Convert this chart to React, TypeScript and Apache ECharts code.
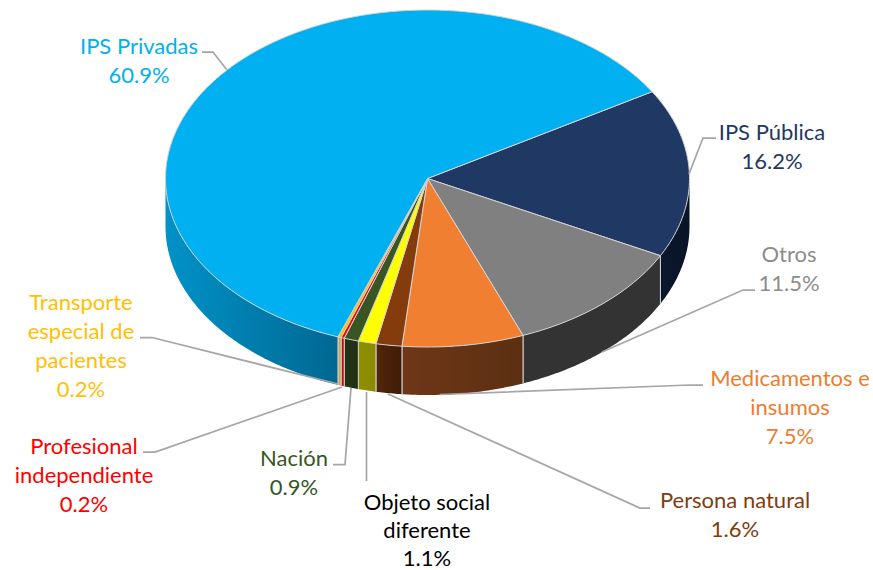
import React, { useEffect, useRef } from "react";
import * as echarts from "echarts";

const categories = ["IPS Pública", "Otros", "Medicamentos e insumos", "Persona natural", "Objeto social diferente", "Nación", "Profesional independiente", "Transporte especial de pacientes", "IPS Privadas"];
const shares = [16.2, 11.5, 7.5, 1.6, 1.1, 0.9, 0.2, 0.2, 60.9];
const shareLabels = ["16.2%", "11.5%", "7.5%", "1.6%", "1.1%", "0.9%", "0.2%", "0.2%", "60.9%"];
const topColors = ["#1F3864", "#808080", "#F07F32", "#843C0C", "#FFFF00", "#375623", "#FF0000", "#FFC000", "#00B0F0"];
const wallLeft = ["#0B172E", "#333333", "#6E3718", "#522508", "#8F8F00", "#223416", "#CC0000", "#C4A650", "#0092C8"];
const wallRight = ["#0A1428", "#333333", "#5C2F11", "#3F1C05", "#8A8A00", "#203015", "#CC0000", "#C4A650", "#006892"];

const labelLines: string[][] = [
  ["IPS Pública"], ["Otros"], ["Medicamentos e", "insumos"], ["Persona natural"],
  ["Objeto social", "diferente"], ["Nación"], ["Profesional", "independiente"],
  ["Transporte", "especial de", "pacientes"], ["IPS Privadas"],
];
const labelColors = ["#1F3864", "#8C8C8C", "#ED7D31", "#843C0C", "#000000", "#375623", "#FF0000", "#FFC000", "#00B0F0"];
const labelAnchors = [[772, 131], [789, 253], [790, 377], [735, 499], [427, 501], [294, 457], [84, 445], [81, 301], [139, 45]];
const labelGaps = [29, 29, 29, 29, 28, 29, 29, 29, 29];
const leaderLines = [
  [[716, 138], [703, 138], [689, 174]],
  [[755, 290], [743, 290], [602, 352]],
  [[703, 385], [690, 385], [440, 394.5]],
  [[650, 508], [640, 508], [388, 394]],
  [[366.5, 481], [366.5, 392]],
  [[333, 464.5], [345, 464.5], [351, 388]],
  [[143, 452], [155, 452], [342, 387]],
  [[140, 337.5], [152, 337.5], [338, 384]],
  [[202, 52], [213, 52], [227, 70]],
];

const CX = 427.5, CY = 178.5, RX = 262, RY = 168.5, DEPTH = 48, START = 31;
const TOTAL = shares.reduce((a, b) => a + b, 0);
const EDGE = "#D4D4D4";

const pt = (deg: number, drop = 0) => {
  const r = (deg * Math.PI) / 180;
  return [CX + RX * Math.cos(r), CY - RY * Math.sin(r) + drop];
};
const arc = (from: number, to: number, drop = 0) => {
  const n = Math.max(2, Math.ceil(Math.abs(from - to) * 2));
  const out: number[][] = [];
  for (let i = 0; i <= n; i++) out.push(pt(from + ((to - from) * i) / n, drop));
  return out;
};
const sliceAngles = (index: number, value: number) => {
  const before = shares.slice(0, index).reduce((a, b) => a + b, 0);
  const a0 = START - (before / TOTAL) * 360;
  return [a0, a0 - (value / TOTAL) * 360];
};

function renderWall(params: any, api: any) {
  const [a0, a1] = sliceAngles(params.dataIndex, api.value(0));
  const hi = Math.min(a0, 0);
  const lo = Math.max(a1, -180);
  if (hi <= lo) return { type: "group", children: [] };
  const poly = [...arc(hi, lo), ...arc(lo, hi, DEPTH)];
  const children: any[] = [
    {
      type: "polygon",
      shape: { points: poly },
      style: {
        fill: new echarts.graphic.LinearGradient(0, 0, 1, 0, [
          { offset: 0, color: wallLeft[params.dataIndex] },
          { offset: 1, color: wallRight[params.dataIndex] },
        ]),
        stroke: "transparent",
      },
    },
  ];
  for (const a of [hi, lo]) {
    if (a === 0 || a === -180) continue;
    const p = pt(a), q = pt(a, DEPTH);
    children.push({
      type: "line",
      shape: { x1: p[0], y1: p[1], x2: q[0], y2: q[1] },
      style: { stroke: EDGE, lineWidth: 1, fill: "none" },
    });
  }
  return { type: "group", children };
}

function renderTop(params: any, api: any) {
  const [a0, a1] = sliceAngles(params.dataIndex, api.value(0));
  return {
    type: "polygon",
    shape: { points: [[CX, CY], ...arc(a0, a1)] },
    style: { fill: topColors[params.dataIndex], stroke: EDGE, lineWidth: 1, lineJoin: "round" },
  };
}

const FONT = "Lato";
const FONT_SIZE = 22;

const graphics: any[] = [];
leaderLines.forEach((pts) => {
  graphics.push({
    type: "polyline",
    shape: { points: pts },
    style: { stroke: "#A6A6A6", lineWidth: 1.75, fill: "none" },
    z: 5,
  });
});
categories.forEach((_, i) => {
  const [x, y] = labelAnchors[i];
  [...labelLines[i], shareLabels[i]].forEach((t, k) => {
    graphics.push({
      type: "text",
      x,
      y: y + k * labelGaps[i],
      style: {
        text: t,
        fill: labelColors[i],
        font: `${FONT_SIZE}px ${FONT}`,
        textAlign: "center",
        textVerticalAlign: "middle",
      },
      z: 6,
    });
  });
});

export default function App() {
  const ref = useRef<HTMLDivElement>(null);
  useEffect(() => {
    document.body.style.margin = "0";
    const chart = echarts.init(ref.current!, undefined, { renderer: "svg" });
    chart.setOption({
      animation: false,
      backgroundColor: "#FFFFFF",
      tooltip: { show: false },
      series: [
        { type: "custom", coordinateSystem: "none", silent: true, renderItem: renderWall, data: shares, z: 1 },
        { type: "custom", coordinateSystem: "none", silent: true, renderItem: renderTop, data: shares, z: 2 },
      ],
      graphic: { elements: graphics },
    });
    return () => chart.dispose();
  }, []);
  return <div ref={ref} style={{ width: 873, height: 570 }} />;
}
